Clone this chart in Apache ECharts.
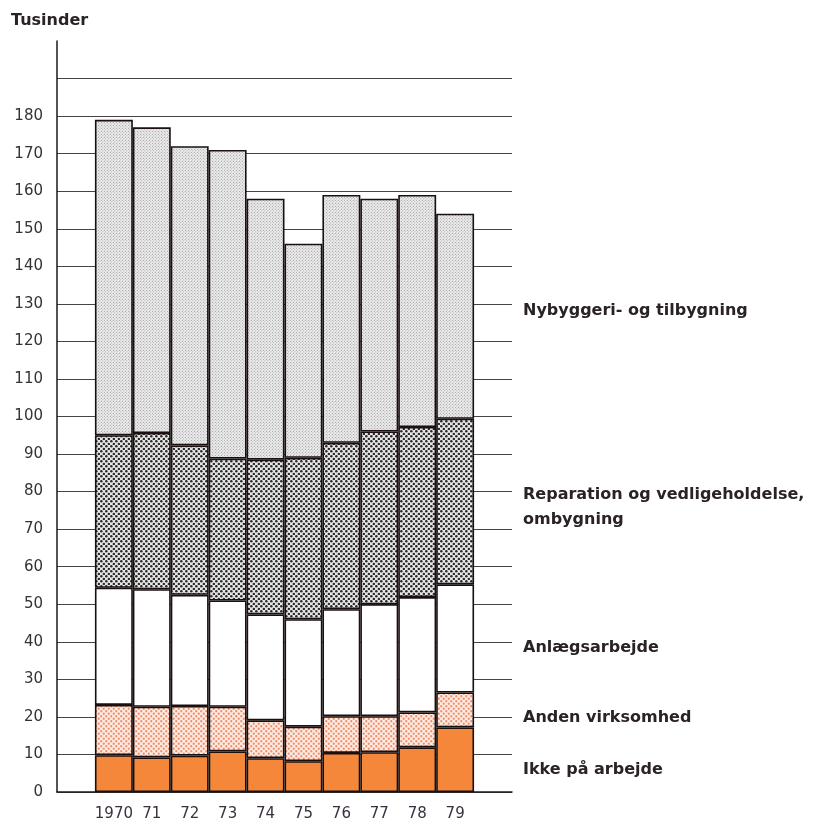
<!DOCTYPE html>
<html>
<head>
<meta charset="utf-8" />
<title>Tusinder</title>
<script src="https://cdn.jsdelivr.net/npm/echarts@6/dist/echarts.min.js"></script>
<style>
  html, body { margin: 0; padding: 0; background: #fff; }
  #chart { width: 818px; height: 822px; }
</style>
</head>
<body>
<div id="chart"></div>
<script type="text/javascript">
// data (tusinder)
var years = ['1970', '71', '72', '73', '74', '75', '76', '77', '78', '79'];
var ikke = [9.8, 9.2, 9.7, 10.8, 9.0, 8.2, 10.4, 10.6, 11.9, 17.2];
var anden = [13.4, 13.5, 13.2, 11.9, 10.1, 9.2, 9.8, 9.6, 9.3, 9.3];
var anlaeg = [31.2, 31.3, 29.6, 28.3, 28.2, 28.6, 28.5, 29.8, 30.7, 28.8];
var reparation = [40.6, 41.6, 39.8, 37.8, 41.2, 43.0, 44.3, 46.0, 45.3, 44.1];
var nybyggeri = [84.0, 81.4, 79.7, 82.2, 69.5, 57.0, 66.0, 62.0, 61.8, 54.6];
var labels = ['Nybyggeri- og tilbygning', 'Reparation og vedligeholdelse,\nombygning',
              'Anlægsarbejde', 'Anden virksomhed', 'Ikke på arbejde'];

// dotted raster fills
function dots(bg, fg, step, r) {
    var c = document.createElement('canvas');
    c.width = step * 2; c.height = step * 2;
    var ctx = c.getContext('2d');
    ctx.fillStyle = bg;
    ctx.fillRect(0, 0, c.width, c.height);
    ctx.fillStyle = fg;
    var pts = [[step / 2, step / 2], [step * 1.5, step * 1.5]];
    for (var i = 0; i < pts.length; i++) {
        ctx.beginPath();
        ctx.arc(pts[i][0], pts[i][1], r, 0, Math.PI * 2);
        ctx.fill();
    }
    return { image: c, repeat: 'repeat' };
}

// pad with an empty slot on each side
var cats = [''].concat(years, ['']);
function pad(arr) { return [null].concat(arr, [null]); }

var myChart = echarts.init(document.getElementById('chart'));
var fills = [
    '#f5873a',
    dots('#fcece3', '#ee9070', 2.5, 1.15),
    '#ffffff',
    dots('#e6e6e6', '#2a2a2a', 2.6, 1.25),
    dots('#ececec', '#a8a8a8', 1.6, 0.6)
];
var names = ['Ikke på arbejde', 'Anden virksomhed', 'Anlægsarbejde', 'Reparation', 'Nybyggeri'];
var vals = [ikke, anden, anlaeg, reparation, nybyggeri];
var series = [];
for (var i = 0; i < vals.length; i++) {
    series.push({
        name: names[i],
        type: 'bar',
        stack: 'total',
        barWidth: '100%',
        data: pad(vals[i]),
        itemStyle: { color: fills[i], borderColor: '#1a1010', borderWidth: 1.6 },
        silent: true
    });
}

var labelY = [311, 507, 648, 718, 770];
var graphics = [{
    type: 'text', left: 11, top: 13,
    style: { text: 'Tusinder', font: 'bold 16px "DejaVu Sans", sans-serif', fill: '#2a2226' }
}];
for (var j = 0; j < labels.length; j++) {
    graphics.push({
        type: 'text', x: 523, y: labelY[j],
        style: {
            text: labels[j], font: 'bold 16px "DejaVu Sans", sans-serif',
            fill: '#2a2226', verticalAlign: 'middle', lineHeight: 25
        }
    });
}

option = {
    backgroundColor: '#fff',
    animation: false,
    grid: { left: 57, right: 306, top: 41, bottom: 29 },
    xAxis: {
        type: 'category',
        data: cats,
        axisLine: { lineStyle: { color: '#1a1a1a', width: 1.5 } },
        axisTick: { show: false },
        axisLabel: { interval: 0, color: '#3a3040', fontSize: 15, margin: 15, fontFamily: '"DejaVu Sans", sans-serif' }
    },
    yAxis: {
        type: 'value',
        min: 0, max: 200, interval: 10,
        axisLine: { show: true, lineStyle: { color: '#1a1a1a', width: 1.5 } },
        axisTick: { show: false },
        axisLabel: {
            color: '#333', fontSize: 15, margin: 14, fontFamily: '"DejaVu Sans", sans-serif',
            formatter: function (v) { return v <= 180 ? String(v) : ''; }
        },
        splitLine: { show: true, showMaxLine: false, lineStyle: { color: '#444', width: 1 } }
    },
    graphic: graphics,
    series: series
};
myChart.setOption(option);
</script>
</body>
</html>
